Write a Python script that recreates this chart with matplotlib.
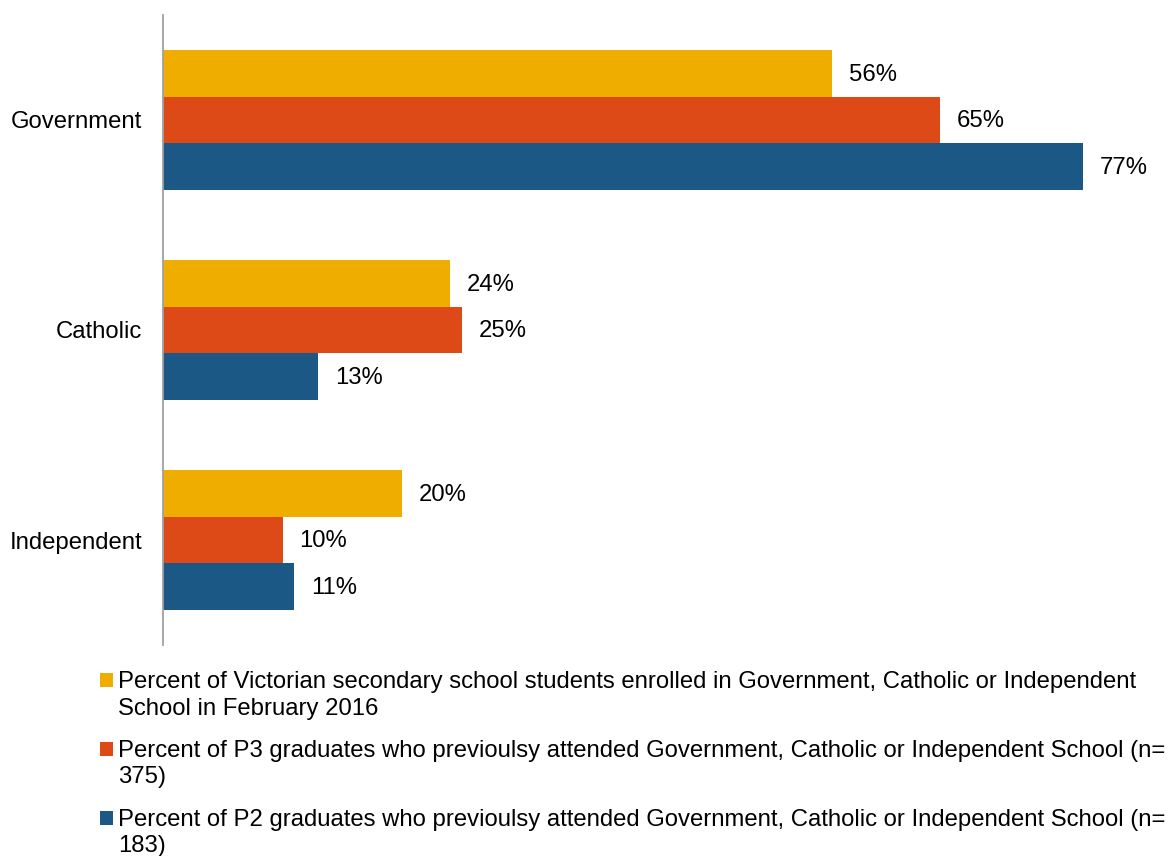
import matplotlib
matplotlib.use("Agg")
import matplotlib.pyplot as plt
from matplotlib.patches import Rectangle

plt.rcParams['font.family'] = ['Liberation Sans', 'DejaVu Sans']

categories = ["Government", "Catholic", "Independent"]
enrolled_2016 = [56, 24, 20]
p3_graduates = [65, 25, 10]
p2_graduates = [77, 13, 11]

series_labels = [
    ["Percent of Victorian secondary school students enrolled in Government, Catholic or Independent",
     "School in February 2016"],
    ["Percent of P3 graduates who previoulsy attended Government, Catholic or Independent School (n=",
     "375)"],
    ["Percent of P2 graduates who previoulsy attended Government, Catholic or Independent School (n=",
     "183)"],
]
colors = ["#EFAD00", "#DE4A17", "#1B5886"]
series = [enrolled_2016, p3_graduates, p2_graduates]

FS = 17.2
W, H = 1174, 856
fig = plt.figure(figsize=(W / 100, H / 100), dpi=100)
ax = fig.add_axes([163 / W, 1 - 645 / H, 1 - 163 / W, (645 - 15) / H])

bar_h = 0.221
offsets = [-bar_h, 0, bar_h]
for vals, off, col in zip(series, offsets, colors):
    ys = [i + off for i in range(len(categories))]
    bars = ax.barh(ys, vals, height=bar_h, color=col, linewidth=0)
    for b, v in zip(bars, vals):
        ax.annotate(f"{v}%", xy=(b.get_width(), b.get_y() + b.get_height() / 2),
                    xytext=(12.2, -1), textcoords="offset points",
                    ha="left", va="center", fontsize=FS, color="#000000")

ax.set_xlim(0, 84.6)
ax.set_ylim(2.5, -0.5)
ax.set_yticks(range(len(categories)))
ax.set_yticklabels(categories, fontsize=FS)
ax.tick_params(axis="y", length=0, pad=15)
ax.set_xticks([])
for s in ["top", "right", "bottom"]:
    ax.spines[s].set_visible(False)
ax.spines["left"].set_color("#A0A0A0")
ax.spines["left"].set_linewidth(1.3)

# Legend drawn line by line in figure pixel coordinates
baselines = [(688, 715), (757, 783), (826, 852)]
for col, lines, (b1, b2) in zip(colors, series_labels, baselines):
    fig.patches.append(Rectangle((100 / W, 1 - (b1 - 1) / H), 13 / W, 14 / H,
                                 transform=fig.transFigure, color=col, linewidth=0))
    fig.text(118 / W, 1 - b1 / H, lines[0], fontsize=FS, ha="left", va="baseline")
    fig.text(118 / W, 1 - b2 / H, lines[1], fontsize=FS, ha="left", va="baseline")

fig.savefig("out.png", dpi=100)
